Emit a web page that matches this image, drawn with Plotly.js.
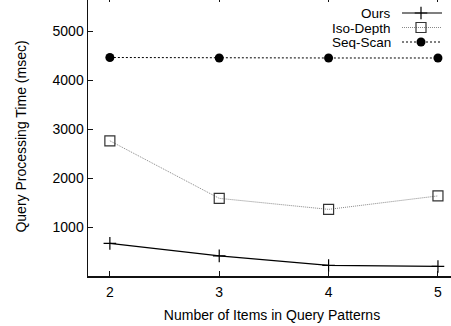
<!DOCTYPE html>
<html><head><meta charset="utf-8">
<script src="https://cdn.plot.ly/plotly-3.0.1.min.js"></script>
<style>html,body{margin:0;padding:0;overflow:hidden;width:451px;height:326px;background:#fff}
#wrap{position:absolute;left:0;top:-3px;width:456px;height:329px}</style>
</head><body><div id="wrap"></div>
<script>
const items = [2, 3, 4, 5];
const ours = [665, 410, 215, 195];
const isoDepth = [2760, 1585, 1360, 1635];
const seqScan = [4460, 4450, 4450, 4450];
const seriesNames = ['Ours', 'Iso-Depth', 'Seq-Scan'];
const xTitle = 'Number of Items in Query Patterns';
const yTitle = 'Query Processing Time (msec)';

const FONT = 'Liberation Sans, Arial, sans-serif';
const styles = [
  {line:{color:'#000', width:1.2, dash:'solid'}, marker:{symbol:'cross-thin', size:9, color:'#000', line:{color:'#000', width:1.2}}},
  {line:{color:'#888', width:1, dash:'1px,1px'}, marker:{symbol:'square-open', size:10, color:'#333', line:{color:'#333', width:1.2}}},
  {line:{color:'#000', width:1, dash:'2px,2px'}, marker:{symbol:'circle', size:9, color:'#000'}}
];
const vals = [ours, isoDepth, seqScan];
const traces = vals.map((v, i) => ({
  x: items, y: v, type:'scatter', mode:'lines+markers', name: seriesNames[i],
  line: styles[i].line, marker: styles[i].marker, showlegend:false, cliponaxis:false
}));
// custom legend (sample on the right of the text, gnuplot style) on an overlay pixel axis
const legY = [13, 27.5, 42];
const annotations = [];
seriesNames.forEach((n, i) => {
  traces.push({x:[402, 442], y:[legY[i], legY[i]], xaxis:'x2', yaxis:'y2', type:'scatter', mode:'lines',
    line: styles[i].line, showlegend:false, hoverinfo:'skip'});
  traces.push({x:[421], y:[legY[i]], xaxis:'x2', yaxis:'y2', type:'scatter', mode:'markers',
    marker: styles[i].marker, showlegend:false, hoverinfo:'skip'});
  annotations.push({xref:'x2', yref:'y2', x:393, y:legY[i], text:n, showarrow:false,
    xanchor:'right', yanchor:'middle', height:14, font:{family:FONT, size:13.5, color:'#000'}});
});

const layout = {
  width:456, height:329,
  margin:{l:88, r:0, t:0, b:50},
  paper_bgcolor:'#fff', plot_bgcolor:'#fff',
  font:{family:FONT, size:14, color:'#000'},
  showlegend:false,
  xaxis:{range:[1.8, 5.165], tickvals:items, ticktext:items.map(String),
    showline:true, linecolor:'#111', linewidth:1.5, mirror:'ticks',
    ticks:'inside', ticklen:5, tickcolor:'#111', showgrid:false, zeroline:false,
    ticklabelstandoff:3,
    tickfont:{family:FONT, size:14},
    title:{text:xTitle, font:{family:FONT, size:14}, standoff:11}},
  yaxis:{range:[0, 5695], tickvals:[1000,2000,3000,4000,5000],
    showline:true, linecolor:'#111', linewidth:1.5, mirror:false,
    ticks:'inside', ticklen:5, tickcolor:'#111', showgrid:false, zeroline:false,
    tickfont:{family:FONT, size:14},
    title:{text:yTitle, font:{family:FONT, size:14}, standoff:22}},
  xaxis2:{overlaying:'x', anchor:'y2', range:[88, 456], visible:false, fixedrange:true},
  yaxis2:{overlaying:'y', anchor:'x2', range:[276, -3], visible:false, fixedrange:true},
  annotations: annotations
};
Plotly.newPlot('wrap', traces, layout, {staticPlot:true, displayModeBar:false});
</script></body></html>
